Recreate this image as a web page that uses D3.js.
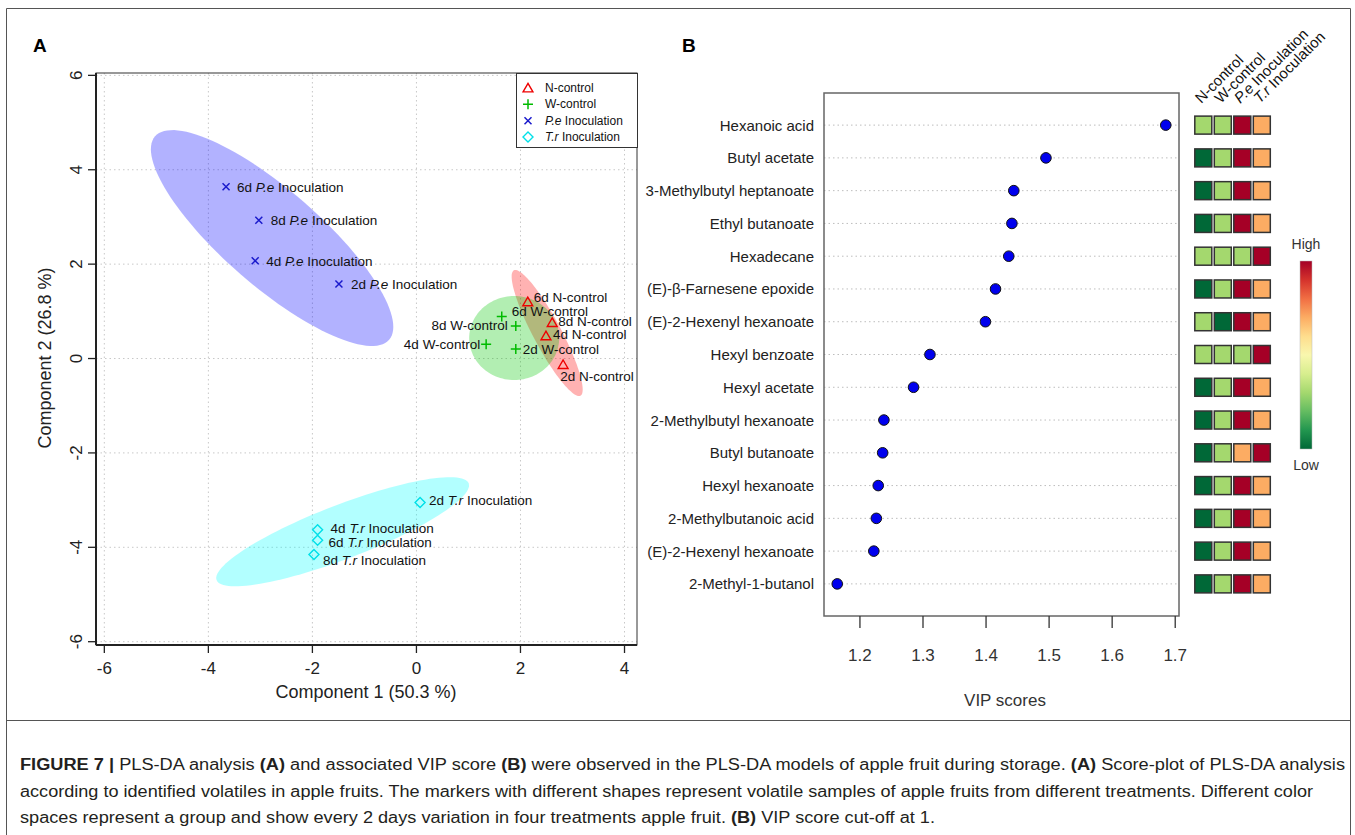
<!DOCTYPE html>
<html><head><meta charset="utf-8">
<script src="https://cdn.jsdelivr.net/npm/d3@7"></script>
<style>
body{margin:0;background:#fff}
svg{display:block;font-family:"Liberation Sans",Arial,Helvetica,sans-serif}
</style>
</head><body>
<svg id="c" width="1355" height="835"></svg>
<script>
// ---------------- DATA ----------------
// Panel A: PLS-DA scores (Component 1, Component 2) for each treatment, days 2,4,6,8
const days = ["2d", "4d", "6d", "8d"];
const groupNames = ["N-control", "W-control", "P.e Inoculation", "T.r Inoculation"];
const nControlX = [2.82, 2.49, 2.14, 2.61];
const nControlY = [-0.13, 0.48, 1.20, 0.76];
const wControlX = [1.91, 1.34, 1.64, 1.91];
const wControlY = [0.20, 0.30, 0.89, 0.69];
const peInocX = [-1.49, -3.10, -3.66, -3.03];
const peInocY = [1.58, 2.07, 3.64, 2.93];
const trInocX = [0.07, -1.90, -1.90, -1.97];
const trInocY = [-3.05, -3.63, -3.85, -4.15];
// confidence ellipses (data units): centre and two conjugate semi-axis vectors
const ellipseCentreX = [2.513, 1.879, -2.775, -1.419];
const ellipseCentreY = [0.54, 0.434, 2.553, -3.669];
const ellipseAxisA = [[0.640, -1.328], [0.865, 0], [2.25, -2.155], [2.423, 1.025]];
const ellipseAxisB = [[-0.238, -0.139], [0, 0.89], [-0.606, -0.767], [0.186, -0.534]];
const axisTicksA = [-6, -4, -2, 0, 2, 4];
const axisTicksAY = [-6, -4, -2, 0, 2, 4, 6];

// Panel B: VIP scores (top to bottom)
const compounds = ["Hexanoic acid", "Butyl acetate", "3-Methylbutyl heptanoate", "Ethyl butanoate",
  "Hexadecane", "(E)-\u03b2-Farnesene epoxide", "(E)-2-Hexenyl hexanoate", "Hexyl benzoate",
  "Hexyl acetate", "2-Methylbutyl hexanoate", "Butyl butanoate", "Hexyl hexanoate",
  "2-Methylbutanoic acid", "(E)-2-Hexenyl hexanoate", "2-Methyl-1-butanol"];
const vipScores = [1.685, 1.495, 1.444, 1.441, 1.436, 1.415, 1.399, 1.311, 1.285, 1.238,
  1.236, 1.229, 1.226, 1.222, 1.164];
const vipTicks = [1.2, 1.3, 1.4, 1.5, 1.6, 1.7];
// relative level (-1 low ... 1 high) per treatment: N-control, W-control, P.e, T.r
const heatLevels = [
  [-0.4, -0.4, 1, 0.4],
  [-1, -0.4, 1, 0.4],
  [-1, -0.4, 1, 0.4],
  [-1, -0.4, 1, 0.4],
  [-0.4, -0.4, -0.4, 1],
  [-1, -0.4, 1, 0.4],
  [-0.4, -1, 1, 0.4],
  [-0.4, -0.4, -0.4, 1],
  [-1, -0.4, 1, 0.4],
  [-1, -0.4, 1, 0.4],
  [-1, -0.4, 0.4, 1],
  [-1, -0.4, 1, 0.4],
  [-1, -0.4, 1, 0.4],
  [-1, -0.4, 1, 0.4],
  [-1, -0.4, 1, 0.4]
];

// ---------------- LAYOUT / STYLE ----------------
const svg = d3.select("#c");
const groupColours = ["#ff0000", "#00c800", "#0000ff", "#00ffff"];
const markerColours = ["#ee0000", "#00bb00", "#1a1acc", "#00e0e8"];

// label placement (pixel offsets from marker): [dx, dy, anchor]
const labelPlacement = {
  "N-control": [[-3, 12, "start"], [7, -1, "start"], [6, -4, "start"], [6, -1, "start"]],
  "W-control": [[7, 0, "start"], [-6, 0, "end"], [10, -5, "start"], [-8, 0, "end"]],
  "P.e Inoculation": [[12, 0, "start"], [11, 0, "start"], [11, 0, "start"], [12, 0, "start"]],
  "T.r Inoculation": [[9, -2, "start"], [13, -2, "start"], [11, 2, "start"], [9, 6, "start"]]
};

// outer frame
const frame = svg.append("g").attr("fill", "none").attr("stroke", "#555").attr("stroke-width", 1);
frame.append("line").attr("x1", 6.5).attr("x2", 6.5).attr("y1", 8.5).attr("y2", 835);
frame.append("line").attr("x1", 1350.5).attr("x2", 1350.5).attr("y1", 8.5).attr("y2", 835);
frame.append("line").attr("x1", 6.5).attr("x2", 1350.5).attr("y1", 8.5).attr("y2", 8.5);
frame.append("line").attr("x1", 6.5).attr("x2", 1350.5).attr("y1", 720.5).attr("y2", 720.5);

svg.append("text").attr("x", 33).attr("y", 52).attr("font-size", 19).attr("font-weight", "bold").text("A");
svg.append("text").attr("x", 682).attr("y", 52).attr("font-size", 19).attr("font-weight", "bold").text("B");

// ============ PANEL A ============
const xA = d3.scaleLinear().domain([-6.16, 4.24]).range([96, 637]);
const yA = d3.scaleLinear().domain([-6.07, 6.05]).range([645, 73]);
const gA = svg.append("g");

// grid
gA.append("g").selectAll("line").data(axisTicksA).join("line")
  .attr("x1", d => xA(d)).attr("x2", d => xA(d)).attr("y1", 73).attr("y2", 645)
  .attr("stroke", "#c8c8c8").attr("stroke-dasharray", "1.5,3");
gA.append("g").selectAll("line").data(axisTicksAY).join("line")
  .attr("y1", d => yA(d)).attr("y2", d => yA(d)).attr("x1", 96).attr("x2", 637)
  .attr("stroke", "#c8c8c8").attr("stroke-dasharray", "1.5,3");

// ellipses
const allX = [nControlX, wControlX, peInocX, trInocX];
const allY = [nControlY, wControlY, peInocY, trInocY];
const lineGen = d3.line().curve(d3.curveLinearClosed);
groupNames.forEach((g, i) => {
  const pts = d3.range(0, 120).map(k => {
    const t = k / 120 * 2 * Math.PI;
    const dx = ellipseCentreX[i] + ellipseAxisA[i][0] * Math.cos(t) + ellipseAxisB[i][0] * Math.sin(t);
    const dy = ellipseCentreY[i] + ellipseAxisA[i][1] * Math.cos(t) + ellipseAxisB[i][1] * Math.sin(t);
    return [xA(dx), yA(dy)];
  });
  gA.append("path").attr("d", lineGen(pts)).attr("fill", groupColours[i]).attr("fill-opacity", 0.3).attr("stroke", "none");
});

// markers
function drawMarker(sel, gi, cx, cy) {
  const c = markerColours[gi];
  if (gi === 0) {
    sel.append("path").attr("d", d3.symbol(d3.symbolTriangle, 42)()).attr("transform", `translate(${cx},${cy + 1})`)
      .attr("fill", "none").attr("stroke", c).attr("stroke-width", 1.4);
  } else if (gi === 1) {
    sel.append("path").attr("d", `M${cx - 5},${cy}H${cx + 5}M${cx},${cy - 5}V${cy + 5}`).attr("stroke", c).attr("stroke-width", 1.5);
  } else if (gi === 2) {
    sel.append("path").attr("d", `M${cx - 3.5},${cy - 3.5}L${cx + 3.5},${cy + 3.5}M${cx - 3.5},${cy + 3.5}L${cx + 3.5},${cy - 3.5}`).attr("stroke", c).attr("stroke-width", 1.5);
  } else {
    sel.append("path").attr("d", `M${cx},${cy - 5}L${cx + 5},${cy}L${cx},${cy + 5}L${cx - 5},${cy}Z`).attr("fill", "none").attr("stroke", c).attr("stroke-width", 1.4);
  }
}
function writeLabel(sel, text, x, y, anchor, size) {
  const t = sel.append("text").attr("x", x).attr("y", y).attr("text-anchor", anchor)
    .attr("font-size", size).attr("fill", "#111").attr("dominant-baseline", "central");
  const m = text.match(/^(.*?)(P\.e|T\.r)(.*)$/);
  if (m) {
    t.append("tspan").text(m[1]);
    t.append("tspan").attr("font-style", "italic").text(m[2]);
    t.append("tspan").text(m[3]);
  } else t.text(text);
  return t;
}
const gPts = gA.append("g");
const gLab = gA.append("g");
groupNames.forEach((g, gi) => {
  days.forEach((d, di) => {
    const cx = xA(allX[gi][di]), cy = yA(allY[gi][di]);
    drawMarker(gPts, gi, cx, cy);
    const p = labelPlacement[g][di];
    writeLabel(gLab, `${d} ${g}`, cx + p[0], cy + p[1], p[2], 13.5);
  });
});

// axes
gA.append("rect").attr("x", 96).attr("y", 73).attr("width", 541).attr("height", 572)
  .attr("fill", "none").attr("stroke", "#333").attr("stroke-width", 1);
gA.append("line").attr("x1", 96).attr("x2", 637).attr("y1", 645).attr("y2", 645).attr("stroke", "#222").attr("stroke-width", 2);
gA.append("line").attr("x1", 96).attr("x2", 96).attr("y1", 73).attr("y2", 645).attr("stroke", "#222").attr("stroke-width", 2);
gA.append("g").selectAll("line").data(axisTicksA).join("line")
  .attr("x1", d => xA(d)).attr("x2", d => xA(d)).attr("y1", 645).attr("y2", 653).attr("stroke", "#222").attr("stroke-width", 1.3);
gA.append("g").selectAll("text").data(axisTicksA).join("text")
  .attr("x", d => xA(d)).attr("y", 674).attr("text-anchor", "middle").attr("font-size", 17).attr("fill", "#222").text(d => d);
gA.append("g").selectAll("line").data(axisTicksAY).join("line")
  .attr("y1", d => yA(d)).attr("y2", d => yA(d)).attr("x1", 88).attr("x2", 96).attr("stroke", "#222").attr("stroke-width", 1.3);
gA.append("g").selectAll("text").data(axisTicksAY).join("text")
  .attr("transform", d => `translate(82,${yA(d)}) rotate(-90)`).attr("text-anchor", "middle").attr("font-size", 17).attr("fill", "#222").text(d => d);
gA.append("text").attr("x", 366).attr("y", 698).attr("text-anchor", "middle").attr("font-size", 18).attr("fill", "#222").text("Component 1 (50.3 %)");
gA.append("text").attr("transform", "translate(51,358) rotate(-90)").attr("text-anchor", "middle").attr("font-size", 18).attr("fill", "#222").text("Component 2 (26.8 %)");

// legend
const leg = gA.append("g");
leg.append("rect").attr("x", 516.5).attr("y", 73.5).attr("width", 121).attr("height", 74).attr("fill", "#fff").attr("stroke", "#333").attr("stroke-width", 1);
const legRowY = d3.scalePoint().domain(groupNames).range([88, 137]);
groupNames.forEach((g, gi) => {
  drawMarker(leg, gi, 528, legRowY(g));
  writeLabel(leg, g, 545, legRowY(g), "start", 12);
});

// ============ PANEL B ============
const xB = d3.scaleLinear().domain([1.143, 1.706]).range([824, 1179]);
const yB = d3.scaleLinear().domain([-0.98, 14.98]).range([93, 616]);
const gB = svg.append("g");
const idx = d3.range(compounds.length);
gB.append("g").selectAll("line").data(idx).join("line")
  .attr("x1", 824).attr("x2", 1179).attr("y1", i => yB(i)).attr("y2", i => yB(i))
  .attr("stroke", "#bdbdbd").attr("stroke-dasharray", "1.5,3");
gB.append("rect").attr("x", 824).attr("y", 93).attr("width", 355).attr("height", 523)
  .attr("fill", "none").attr("stroke", "#666").attr("stroke-width", 1.5);
gB.append("g").selectAll("circle").data(idx).join("circle")
  .attr("cx", i => xB(vipScores[i])).attr("cy", i => yB(i)).attr("r", 5.3)
  .attr("fill", "#0000ee").attr("stroke", "#111").attr("stroke-width", 1);
gB.append("g").selectAll("text").data(idx).join("text")
  .attr("x", 814).attr("y", i => yB(i)).attr("dominant-baseline", "central").attr("text-anchor", "end")
  .attr("font-size", 15).attr("fill", "#222").text(i => compounds[i]);
gB.append("g").selectAll("line").data(vipTicks).join("line")
  .attr("x1", d => xB(d)).attr("x2", d => xB(d)).attr("y1", 616).attr("y2", 628).attr("stroke", "#333").attr("stroke-width", 1.3);
gB.append("g").selectAll("text").data(vipTicks).join("text")
  .attr("x", d => xB(d)).attr("y", 661).attr("text-anchor", "middle").attr("font-size", 17).attr("fill", "#333").text(d => d.toFixed(1));
gB.append("text").attr("x", 1005).attr("y", 706).attr("text-anchor", "middle").attr("font-size", 17).attr("fill", "#333").text("VIP scores");

// heatmap
const xH = d3.scalePoint().domain(groupNames).range([1203.3, 1261.8]);
const heatColour = v => d3.interpolateRdYlGn(1 - (v + 1) / 2);
const gH = gB.append("g");
idx.forEach(i => {
  groupNames.forEach((g, gi) => {
    gH.append("rect").attr("x", xH(g) - 8.5).attr("y", yB(i) - 9).attr("width", 17).attr("height", 18)
      .attr("fill", heatColour(heatLevels[i][gi])).attr("stroke", "#333").attr("stroke-width", 1.5);
  });
});
groupNames.forEach(g => {
  writeLabel(gH, g, 0, 0, "start", 15).attr("dominant-baseline", null)
    .attr("transform", `translate(${xH(g) - 2},${104}) rotate(-45)`);
});

// colour bar
const defs = svg.append("defs");
const grad = defs.append("linearGradient").attr("id", "cb").attr("x1", 0).attr("x2", 0).attr("y1", 1).attr("y2", 0);
d3.range(0, 11).forEach(k => {
  const v = -1 + k / 5;
  grad.append("stop").attr("offset", k / 10).attr("stop-color", heatColour(v));
});
gH.append("rect").attr("x", 1300).attr("y", 261).attr("width", 12).attr("height", 188).attr("fill", "url(#cb)").attr("stroke", "#bbb").attr("stroke-width", 0.5);
gH.append("text").attr("x", 1306).attr("y", 249).attr("text-anchor", "middle").attr("font-size", 14).attr("fill", "#333").text("High");
gH.append("text").attr("x", 1306).attr("y", 470).attr("text-anchor", "middle").attr("font-size", 14).attr("fill", "#333").text("Low");

// ============ CAPTION ============
const captionLines = [
  [["FIGURE 7 | ", true], ["PLS-DA analysis ", false], ["(A)", true], [" and associated VIP score ", false], ["(B)", true],
   [" were observed in the PLS-DA models of apple fruit during storage. ", false], ["(A)", true], [" Score-plot of PLS-DA analysis", false]],
  [["according to identified volatiles in apple fruits. The markers with different shapes represent volatile samples of apple fruits from different treatments. Different color", false]],
  [["spaces represent a group and show every 2 days variation in four treatments apple fruit. ", false], ["(B)", true], [" VIP score cut-off at 1.", false]]
];
const captionWidths = [1325, 1293, 915];
const captionY = [770, 797, 823];
captionLines.forEach((parts, li) => {
  const t = svg.append("text").attr("x", 20).attr("y", captionY[li]).attr("font-size", 16)
    .attr("font-family", '"Liberation Sans Narrow","Liberation Sans",Arial,sans-serif')
    .attr("fill", "#231f20").attr("textLength", captionWidths[li]).attr("lengthAdjust", "spacingAndGlyphs");
  parts.forEach(p => t.append("tspan").attr("font-weight", p[1] ? "bold" : "normal").text(p[0]));
});
</script>
</body></html>
